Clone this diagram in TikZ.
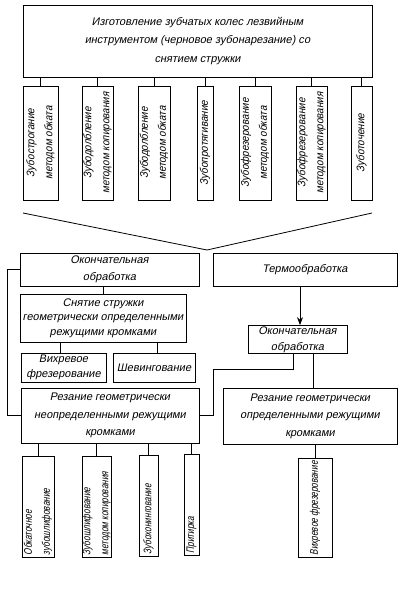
\documentclass[tikz,border=0pt]{standalone}
\usepackage{fontspec}
\newfontfamily\gost{Liberation Sans}[FakeStretch=1.0,FakeSlant=0.2]
\newfontfamily\gostv{Liberation Sans}[FakeStretch=0.9,FakeSlant=0.2]
\newfontfamily\gostn{Liberation Sans}[FakeStretch=0.74,FakeSlant=0.2]
\usetikzlibrary{arrows.meta,calc}
\tikzset{
  box/.style={draw, line width=0.8pt, inner sep=1pt, align=center,
    font=\gost\fontsize{11}{15}\selectfont},
  vtext/.style={rotate=90, align=center, inner sep=0pt,
    font=\gostv\fontsize{11}{18}\selectfont},
  vtextl/.style={rotate=90, align=left, anchor=west, inner sep=0pt,
    font=\gostn\fontsize{11}{18}\selectfont},
  conn/.style={line width=0.8pt},
}
\newcommand\bx[7][]{\node[box, #1, minimum width={(#5-#3)*1pt}, minimum height={(#6-#4)*1pt}] (#2) at ({(#3+#5)/2},{(#4+#6)/2}) {#7};}
\begin{document}
\begin{tikzpicture}[x=1pt,y=-1pt]
\useasboundingbox (0,0) rectangle (402,605);
% top
\bx[font=\gost\fontsize{11}{18.5}\selectfont]{top}{23}{5}{372}{77}{Изготовление зубчатых колес лезвийным\\инструментом (черновое зубонарезание) со\\снятием стружки}
% first row
\bx{a1}{23}{86}{58}{200}{}
\bx{a2}{82}{86}{113}{200}{}
\bx{a3}{138}{86}{170}{200}{}
\bx{a4}{197}{86}{213}{200}{}
\bx{a5}{239}{86}{271}{200}{}
\bx{a6}{296}{86}{327}{200}{}
\bx{a7}{351}{86}{372}{200}{}
\node[vtext] (ta1) at (a1.center) {Зубострогание\\методом обката};
\node[vtext] (ta2) at (a2.center) {Зубодолбление\\методом копирования};
\node[vtext] (ta3) at (a3.center) {Зубодолбление\\методом обката};
\node[vtext] (ta4) at (a4.center) {Зубопротягивание};
\node[vtext] (ta5) at (a5.center) {Зубофрезерование\\методом обката};
\node[vtext] (ta6) at (a6.center) {Зубофрезерование\\методом копирования};
\node[vtext] (ta7) at (a7.center) {Зуботочение};
\foreach \n in {a1,a2,a3,a4,a5,a6,a7}
  \draw[conn] (top.south -| \n.north) -- (\n.north);
% funnel
\draw[conn] (23,213) -- (207,250) -- (372,213);
% second level
\bx[font=\gost\fontsize{11}{17}\selectfont]{ok1}{20}{253}{199}{286}{Окончательная\\обработка}
\bx{term}{213}{253}{397}{286}{Термообработка}
\bx[font=\gost\fontsize{11}{14.5}\selectfont]{sn}{20}{294}{186}{342}{Снятие стружки\\геометрически определенными\\режущими кромками}
\bx{vf1}{21}{353}{106}{382}{Вихревое\\фрезерование}
\bx{sh}{113}{353}{195}{382}{Шевингование}
\bx[font=\gost\fontsize{11}{17.5}\selectfont]{rez1}{21}{388}{199}{443}{Резание геометрически\\неопределенными режущими\\кромками}
\bx[font=\gost\fontsize{11}{16}\selectfont]{ok2}{248}{326}{347}{353}{Окончательная\\обработка}
\bx[font=\gost\fontsize{11}{17.5}\selectfont]{rez2}{223}{388}{397}{444}{Резание геометрически\\определенными режущими\\кромками}
% bottom row
\bx{b1}{22}{456}{54}{557}{}
\bx{b2}{82}{456}{111}{557}{}
\bx{b3}{139}{455}{158}{556}{}
\bx{b4}{184}{454}{199}{555}{}
\bx{b5}{298}{458}{332}{557}{}
\node[vtextl] (tb1) at ([yshift=2]b1.south) {Обкаточное\\зубошлифование};
\node[vtextl] (tb2) at ([yshift=2]b2.south) {Зубошлифование\\методом копирования};
\node[vtextl] (tb3) at ([yshift=2]b3.south) {Зубохонингование};
\node[vtextl] (tb4) at ([yshift=2]b4.south) {Притирка};
\node[vtextl] (tb5) at ([yshift=2]b5.south) {Вихревое фрезерование};
% connectors
\draw[conn] (ok1.west) -- ++(-12,0) |- (rez1.west);
\draw[conn] (ok1.south -| sn.north) -- (sn.north);
\draw[conn] (sn.south -| 60,0) -- (vf1.north -| 60,0);
\draw[conn] (sn.south -| 157,0) -- (sh.north -| 157,0);
\draw[conn,-{Stealth[length=8pt,width=6pt]}] (term.south -| 300,0) -- (ok2.north -| 300,0);
\coordinate (k1) at (213,369);
\draw[conn] (ok2.south -| 293,0) |- (k1) |- (rez1.east);
\draw[conn] (ok2.south -| 313,0) -- (rez2.north -| 313,0);
\draw[conn] (rez1.south -| 38,0) -- (b1.north -| 38,0);
\draw[conn] (rez1.south -| b2.north) -- (b2.north);
\draw[conn] (rez1.south -| b3.north) -- (b3.north);
\draw[conn] (rez1.south -| b4.north) -- (b4.north);
\draw[conn] (rez2.south -| b5.north) -- (b5.north);
\end{tikzpicture}
\end{document}
